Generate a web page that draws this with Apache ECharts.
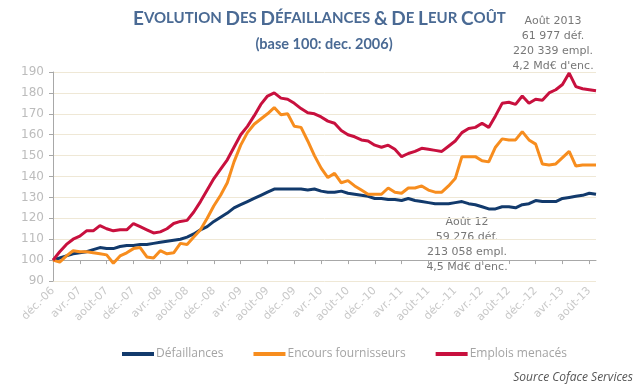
<!DOCTYPE html>
<html><head><meta charset="utf-8">
<script src="https://cdn.jsdelivr.net/npm/echarts@6/dist/echarts.min.js"></script>
<style>html,body{margin:0;padding:0;background:#fff}#c{width:644px;height:390px}</style>
</head><body><div id="c"></div>
<script>
const monthNames = ['janv.','févr.','mars','avr.','mai','juin','juil.','août','sept.','oct.','nov.','déc.'];
const startMonth = 11, startYear = 2006, nMonths = 82;
const categories = [];
for (let k = 0; k < nMonths; k++) {
  const m = (startMonth + k) % 12;
  const y = startYear + Math.floor((startMonth + k) / 12);
  categories.push(monthNames[m] + '-' + String(y % 100).padStart(2, '0'));
}
const defaillances = [100,101,102,103,103.5,104,105,106,105.5,105.5,106.5,107,107,107.5,107.5,108,108.5,109,109.5,110,
  111,112.5,114.5,116,118.5,120.5,122.5,125,126.5,128,129.5,131,132.5,134,134,134,134,134,133.5,134,
  133,132.5,132.5,133,132,131.5,131,130.5,129.5,129.5,129,129,128.5,129.5,128.5,128,127.5,127,127,127,
  127.5,128,127,126.5,125.5,124.5,124.5,125.5,125.5,125,126.5,127,128.5,128,128,128,129.5,130,130.5,131,
  132,131.5];
const encours = [100,99,102,104.5,104,104,103.5,103,102.5,98.5,102,103.5,105.5,106,101.5,101,104.5,103,103.5,108,
  107.5,111,114.5,120,126,131,137,147,155,161,165,167.5,170,173,169.5,170,164,163.5,157,150,
  144,139.5,141.5,137,138,135.5,133.5,131.5,131.5,131.5,134.5,132.5,132,134.5,134.5,135.5,133.5,132.5,132.5,135.5,
  139,149.5,149.5,149.5,147.5,147,154,158,157.5,157.5,161.5,157.5,155.5,146,145.5,146,149,152,145,145.5,
  145.5,145.5];
const emplois = [100,104,107.5,110,111.5,114,114,116.5,115,114,114.5,114.5,117.5,116,114.5,113,113.5,115,117.5,118.5,
  119,123,128,133.5,139,143.5,148,154,160,164,169,174.5,178.5,180,177.5,177,175,172.5,170.5,170,
  168.5,166.5,165.5,162,160,159,157.5,157,155,154,155,153,149.5,151,152,153.5,153,152.5,152,154.5,
  157,161,163,163.5,165.5,163.5,169,175,175.5,174.5,178.5,175,177,176.5,180,181.5,184,189.5,183,182,
  181.5,181];
const seriesNames = ['Défaillances','Encours fournisseurs','Emplois menacés'];
const yTicks = {min: 90, max: 190, step: 10};
const annotTop = ['Août 2013','61 977 déf.','220 339 empl.','4,2 Md€ d\'enc.'];
const annotMid = ['Août 12','59 276 déf.','213 058 empl.','4,5 Md€ d\'enc.'];

const colors = ['#123a6c','#f78d1e','#c8103e'];
const titleColor = '#4a6a94';
const chart = echarts.init(document.getElementById('c'), null, {renderer:'canvas'});

function smallCaps(str){
  return str.split(' ').map(w => {
    if (w === '&') return '{b|&}';
    return '{b|' + w[0] + '}{s|' + w.slice(1) + '}';
  }).join('{s| }');
}
const titleText = smallCaps('EVOLUTION DES DÉFAILLANCES & DE LEUR COÛT');

chart.setOption({
  animation: false,
  grid: {left: 53, right: 48, top: 72, bottom: 109, containLabel: false},
  legend: {
    data: seriesNames, left: 117, top: 343, icon: 'rect', itemWidth: 32, itemHeight: 4, itemGap: 30,
    textStyle: {color: '#a4a4a4', fontSize: 12, fontFamily: 'Open Sans', padding: [0,0,0,-3]}
  },
  xAxis: [{
    type: 'category', data: categories, boundaryGap: false, position: 'bottom', offset: -20.9,
    axisLine: {show: true, lineStyle: {color: '#a8a8a8', width: 1}},
    axisTick: {show: true, interval: 3, length: 4, lineStyle: {color: '#a8a8a8'}},
    axisLabel: {show: false}, splitLine: {show: false}
  },{
    type: 'category', data: categories, boundaryGap: false, position: 'bottom', offset: 0,
    axisLine: {show: false}, axisTick: {show: false},
    axisLabel: {show: true, interval: 3, rotate: 45, color: '#c8c8c8', fontSize: 11, fontFamily: 'DejaVu Sans', margin: 8},
    splitLine: {show: false}
  }],
  yAxis: {
    type: 'value', min: yTicks.min, max: yTicks.max, interval: yTicks.step,
    axisLine: {show: true, lineStyle: {color: '#a8a8a8'}},
    axisTick: {show: true, length: 4, lineStyle: {color: '#a8a8a8'}},
    axisLabel: {color: '#bcbcbc', fontSize: 12, fontFamily: 'DejaVu Sans', margin: 9},
    splitLine: {show: true, lineStyle: {color: '#efe8d6', width: 1}}
  },
  series: [
    {name: seriesNames[0], type: 'line', data: defaillances, showSymbol: false, symbol: 'none', color: colors[0], lineStyle: {width: 3, color: colors[0]}},
    {name: seriesNames[1], type: 'line', data: encours, showSymbol: false, symbol: 'none', color: colors[1], lineStyle: {width: 3, color: colors[1]}},
    {name: seriesNames[2], type: 'line', data: emplois, showSymbol: false, symbol: 'none', color: colors[2], lineStyle: {width: 3, color: colors[2]}}
  ],
  graphic: [
    {type: 'text', left: 133, top: 9, style: {text: titleText, fill: titleColor,
      rich: {b: {fontSize: 19, fontWeight: 'bold', fontFamily: 'Lato', fill: titleColor},
             s: {fontSize: 15, fontWeight: 'bold', fontFamily: 'Lato', fill: titleColor}}}},
    {type: 'text', x: 324, y: 44, style: {text: '(base 100: dec. 2006)', fill: titleColor, fontSize: 14.5, fontWeight: 'bold', fontFamily: 'Lato', align: 'center', verticalAlign: 'middle'}},
    {type: 'text', x: 553, y: 14, style: {text: annotTop.join('\n'), fill: '#777', fontSize: 11, fontFamily: 'DejaVu Sans', align: 'center', lineHeight: 15}},
    {type: 'text', x: 467, y: 215, style: {text: annotMid.join('\n'), fill: '#777', fontSize: 11, fontFamily: 'DejaVu Sans', align: 'center', lineHeight: 15}},
    {type: 'text', x: 633, y: 378, style: {text: 'Source Coface Services', fill: '#555', fontSize: 12, fontStyle: 'italic', fontFamily: 'Open Sans', align: 'right', verticalAlign: 'middle'}}
  ]
});
</script></body></html>
